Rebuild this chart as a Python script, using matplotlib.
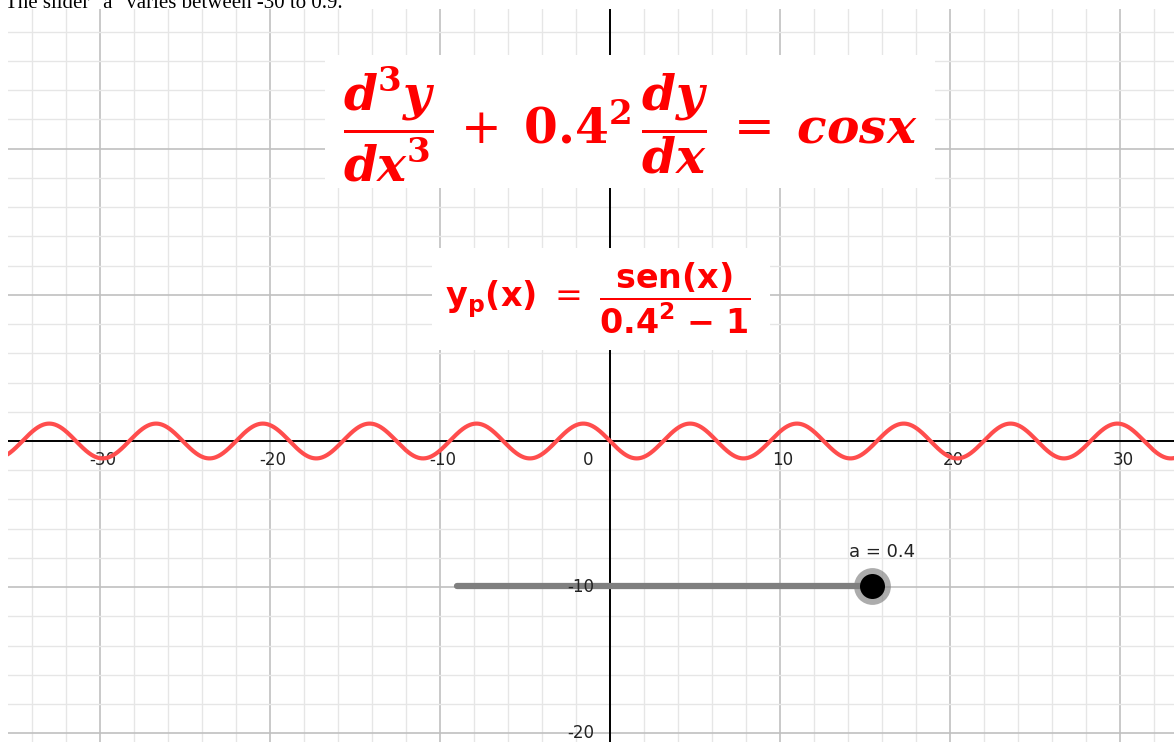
import numpy as np
import matplotlib
matplotlib.use("Agg")
import matplotlib.pyplot as plt
from matplotlib.patches import Rectangle

plt.rcParams["mathtext.fontset"] = "custom"
plt.rcParams["mathtext.rm"] = "DejaVu Serif"
plt.rcParams["mathtext.bf"] = "DejaVu Serif:bold"
plt.rcParams["mathtext.bfit"] = "DejaVu Serif:italic:bold"

# slider value and its range
a_value = 0.4
slider_min = -30
slider_max = 0.9

# axis labels shown along the axes (10 and 20 on y sit under the text boxes)
x_labels = [-30, -20, -10, 0, 10, 20, 30]
y_labels = [-20, -10]

fig = plt.figure(figsize=(11.74, 7.42), dpi=100)
ax = fig.add_axes([8 / 1174, 0, 1166 / 1174, 733 / 742])

# grid: major every 10, minor every 2
ax.set_xticks(np.arange(-40, 41, 10))
ax.set_xticks(np.arange(-40, 41, 2), minor=True)
ax.set_yticks(np.arange(-30, 31, 10))
ax.set_yticks(np.arange(-30, 31, 2), minor=True)
ax.set_xlim(-602 / 17, 564 / 17)
ax.set_ylim(-301 / 14.62, 432 / 14.62)
ax.grid(which="minor", color="#e6e6e6", lw=1.0)
ax.grid(which="major", color="#c0c0c0", lw=1.2)
ax.tick_params(which="both", length=0, labelbottom=False, labelleft=False)
for s in ax.spines.values():
    s.set_visible(False)

ax.axhline(0, color="black", lw=1.4, zorder=2)
ax.axvline(0, color="black", lw=1.4, zorder=2)

for v in x_labels:
    xp = v + 0.18 if v != 0 else -1.3
    ax.text(xp, -1.3, str(v), ha="center", va="center", fontsize=12,
            color="#222222", zorder=2.5)

# particular solution y_p(x) = sin(x) / (a^2 - 1)
xs = np.linspace(-36, 34, 2000)
ys = np.sin(xs) / (a_value ** 2 - 1)
ax.plot(xs, ys, color="#ff4d4d", lw=3.0, zorder=3, solid_capstyle="round")

# slider for a
s_start = -9.0
s_len = 24.81
s_y = -9.92
s_end = s_start + s_len
a_x = s_start + (a_value - slider_min) / (slider_max - slider_min) * s_len
ax.plot([s_start, s_end], [s_y, s_y], color="#7f7f7f", lw=4.5,
        solid_capstyle="round", zorder=4)
ax.plot([a_x], [s_y], "o", ms=26.5, color="#808080", alpha=0.65,
        mec="none", zorder=5)
ax.plot([a_x], [s_y], "o", ms=18, color="black", mec="none", zorder=6)
ax.text(14.06, -7.93, "a = %.1f" % a_value, ha="left", va="baseline",
        fontsize=13, color="#222222", zorder=6)

for v in y_labels:
    ax.text(-0.95, v, str(v), ha="right", va="center", fontsize=12,
            color="#222222", zorder=4.5)

# text boxes
ax.add_patch(Rectangle((-16.76, 17.31), 35.88, 9.09, facecolor="white",
                       edgecolor="none", zorder=7))
ax.add_patch(Rectangle((-10.47, 6.22), 19.88, 6.98, facecolor="white",
                       edgecolor="none", zorder=7))

eq1 = (r"$\dfrac{\mathbfit{d}^{\mathbf{3}}\mathbfit{y}}{\mathbfit{dx}^{\mathbf{3}}}"
       r"\;+\;\mathbf{0.4}^{\mathbf{2}}\,\dfrac{\mathbfit{dy}}{\mathbfit{dx}}"
       r"\;=\;\mathbfit{cosx}$")
ax.text(1.18, 21.7, eq1, ha="center", va="center", fontsize=35,
        color="#ff0000", zorder=8)

eq2 = (r"$\mathbf{y_p(x)}\ =\ \dfrac{\mathbf{sen(x)}}"
       r"{\mathbf{0.4^2}\ \mathbf{-}\ \mathbf{1}}$")
ax.text(-0.7, 9.75, eq2, ha="center", va="center", fontsize=24,
        color="#ff0000", math_fontfamily="dejavusans", zorder=8)

fig.text(5 / 1174, 1 - 8 / 742, 'The slider "a" varies between -30 to 0.9.',
         ha="left", va="baseline", fontsize=15, family="Liberation Serif",
         color="black")

fig.savefig("out.png", dpi=100)
